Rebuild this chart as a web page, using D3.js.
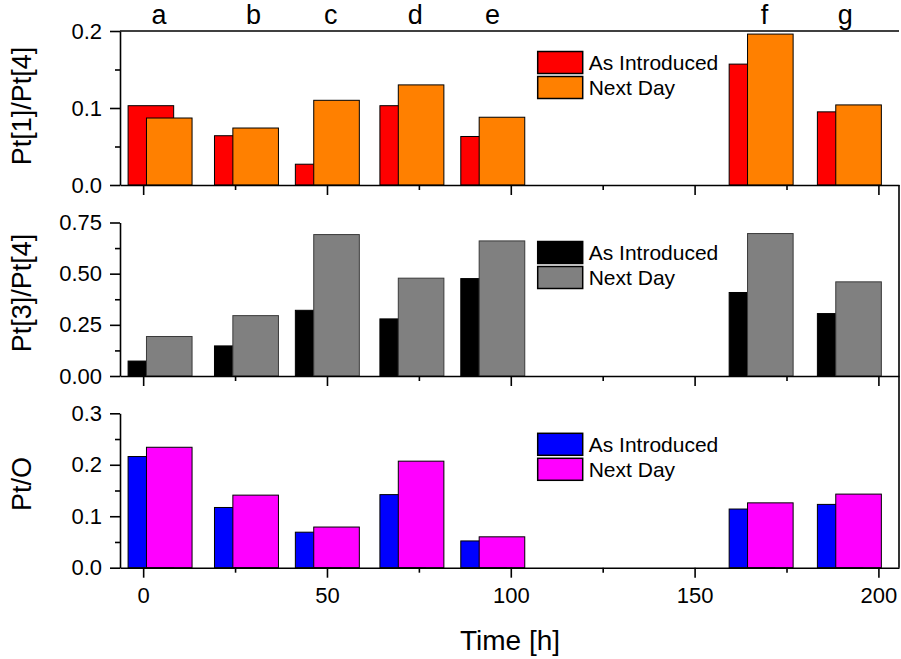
<!DOCTYPE html>
<html>
<head>
<meta charset="utf-8">
<script src="https://cdn.jsdelivr.net/npm/d3@7"></script>
<style>
  body { margin: 0; background: #fff; }
  svg { display: block; font-family: "Liberation Sans", Arial, sans-serif; }
</style>
</head>
<body>
<div id="chart"></div>
<script>
// sample groups and their times (h)
const groups = ["a", "b", "c", "d", "e", "f", "g"];
const times = [4.5, 28, 50, 73, 95, 168, 192];
const labelTimes = [4.3, 30, 51, 74, 95, 169, 191];

// Pt[1]/Pt[4]
const pt1Intro = [0.103, 0.064, 0.027, 0.103, 0.063, 0.157, 0.095];
const pt1Next  = [0.087, 0.074, 0.110, 0.130, 0.088, 0.196, 0.104];
// Pt[3]/Pt[4]
const pt3Intro = [0.073, 0.147, 0.321, 0.279, 0.476, 0.408, 0.305];
const pt3Next  = [0.193, 0.295, 0.691, 0.478, 0.660, 0.696, 0.460];
// Pt/O
const ptoIntro = [0.216, 0.117, 0.069, 0.142, 0.052, 0.114, 0.123];
const ptoNext  = [0.234, 0.141, 0.079, 0.207, 0.060, 0.126, 0.143];

const seriesNames = ["As Introduced", "Next Day"];

const width = 901, height = 659;
const left = 120, right = 899;

const svg = d3.select("#chart").append("svg")
  .attr("width", width)
  .attr("height", height);

const x = d3.scaleLinear().domain([-6.3, 205.6]).range([left, right]);

const panels = [
  { label: "Pt[1]/Pt[4]", intro: pt1Intro, next: pt1Next, domain: [0, 0.2], range: [185, 31],
    major: [0, 0.1, 0.2], minor: [0.05, 0.15], fmt: d3.format(".1f"),
    colors: ["#ff0000", "#ff8000"], strokes: ["#000", "#000"], legendY: 51.5, labelY: 106 },
  { label: "Pt[3]/Pt[4]", intro: pt3Intro, next: pt3Next, domain: [0, 0.75], range: [376, 222.5],
    major: [0, 0.25, 0.5, 0.75], minor: [0.125, 0.375, 0.625], fmt: d3.format(".2f"),
    colors: ["#000000", "#808080"], strokes: ["#000", "#3a3a3a"], legendY: 241.5, labelY: 293 },
  { label: "Pt/O", intro: ptoIntro, next: ptoNext, domain: [0, 0.3], range: [567.7, 413.3],
    major: [0, 0.1, 0.2, 0.3], minor: [0.05, 0.15, 0.25], fmt: d3.format(".1f"),
    colors: ["#0000ff", "#ff00ff"], strokes: ["#000", "#000"], legendY: 433.3, labelY: 484 }
];

// bar layout in hours, relative to group time
const barW = 12.4;
const introOff = -8.6, nextOff = -3.6;

panels.forEach((p, pi) => {
  const y = d3.scaleLinear().domain(p.domain).range(p.range);
  const base = p.range[0];
  const g = svg.append("g");

  // bars: "as introduced" behind, "next day" on top
  [[p.intro, introOff], [p.next, nextOff]].forEach(([vals, off], si) => {
    g.selectAll(null)
      .data(vals)
      .enter()
      .append("rect")
      .attr("x", (d, i) => x(times[i] + off))
      .attr("width", x(barW) - x(0))
      .attr("y", d => y(d))
      .attr("height", d => base - y(d))
      .attr("fill", p.colors[si])
      .attr("stroke", p.strokes[si])
      .attr("stroke-width", 1);
  });

  // left axis
  const yAxis = g.append("g")
    .attr("transform", `translate(${left},0)`)
    .call(d3.axisLeft(y).tickValues(p.major).tickFormat(p.fmt).tickSize(10).tickSizeOuter(0).tickPadding(8));
  g.append("g")
    .attr("transform", `translate(${left},0)`)
    .call(d3.axisLeft(y).tickValues(p.minor).tickFormat("").tickSize(5).tickSizeOuter(0))
    .select(".domain").remove();

  // bottom axis
  const xAxis = g.append("g")
    .attr("transform", `translate(0,${base})`)
    .call(d3.axisBottom(x).tickValues([0, 50, 100, 150, 200]).tickSize(10).tickSizeOuter(0).tickPadding(10)
      .tickFormat(pi === 2 ? d3.format("d") : ""));
  g.append("g")
    .attr("transform", `translate(0,${base})`)
    .call(d3.axisBottom(x).tickValues([25, 75, 125, 175]).tickFormat("").tickSize(5).tickSizeOuter(0))
    .select(".domain").remove();

  g.selectAll(".tick line").attr("stroke-width", 1.6);
  g.selectAll(".domain").attr("stroke-width", 1.6);
  g.selectAll(".tick text").attr("font-size", 22).attr("fill", "#000")
    .attr("font-family", "Liberation Sans, Arial, sans-serif");

  // y label
  g.append("text")
    .attr("transform", `translate(22,${p.labelY}) rotate(-90)`)
    .attr("text-anchor", "middle")
    .attr("dy", "0.35em")
    .attr("font-size", 27)
    .text(p.label);

  // legend
  const lg = g.append("g").attr("transform", `translate(537.7,${p.legendY})`);
  seriesNames.forEach((name, si) => {
    lg.append("rect")
      .attr("x", 0).attr("y", si * 25)
      .attr("width", 45).attr("height", 22)
      .attr("fill", p.colors[si])
      .attr("stroke", "#000")
      .attr("stroke-width", 1.5);
    lg.append("text")
      .attr("x", 51).attr("y", si * 25 + 11)
      .attr("dy", "0.36em")
      .attr("font-size", 21)
      .text(name);
  });
});

// frame pieces: top line over first panel, right line over lower panels
svg.append("line")
  .attr("x1", left).attr("x2", right).attr("y1", 31).attr("y2", 31)
  .attr("stroke", "#000").attr("stroke-width", 1.6);
svg.append("line")
  .attr("x1", right).attr("x2", right).attr("y1", 185).attr("y2", 567.7)
  .attr("stroke", "#000").attr("stroke-width", 1.6);

// sample letters on top
svg.selectAll(".letter")
  .data(groups)
  .enter()
  .append("text")
  .attr("class", "letter")
  .attr("x", (d, i) => x(labelTimes[i]))
  .attr("y", 24)
  .attr("text-anchor", "middle")
  .attr("font-size", 27)
  .text(d => d);

// x title
svg.append("text")
  .attr("x", 510)
  .attr("y", 650)
  .attr("text-anchor", "middle")
  .attr("font-size", 28)
  .text("Time [h]");
</script>
</body>
</html>
